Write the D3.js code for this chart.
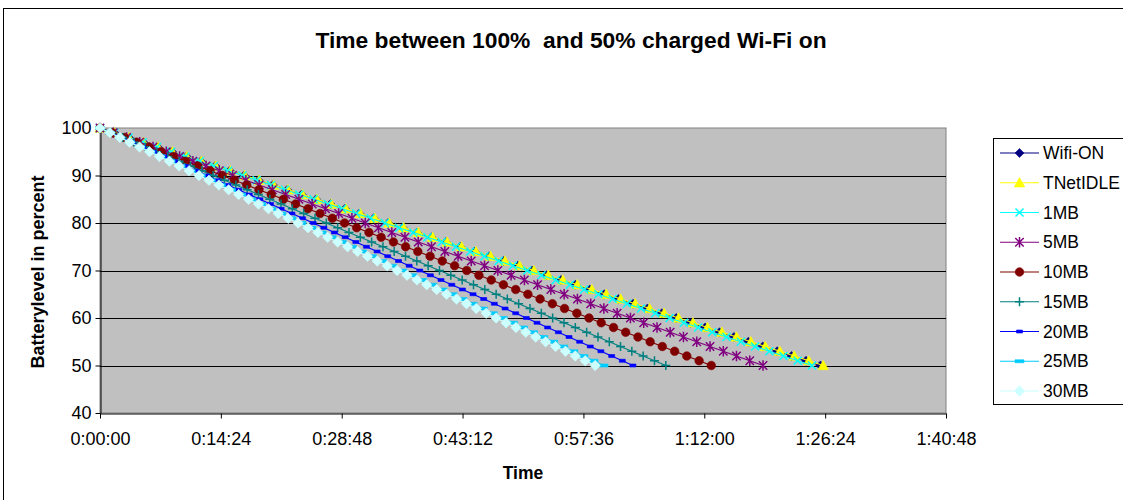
<!DOCTYPE html>
<html>
<head>
<meta charset="utf-8">
<script src="https://cdn.jsdelivr.net/npm/d3@7"></script>
<style>
  html, body { margin: 0; padding: 0; background: #fff; }
  svg { display: block; font-family: "Liberation Sans", Arial, sans-serif; }
</style>
</head>
<body>
<svg id="chart" width="1123" height="500"></svg>
<script>
// ---- Data (times in seconds since start, battery level in percent) ----
const levels = [100,99,98,97,96,95,94,93,92,91,90,89,88,87,86,85,84,83,82,81,80,79,78,77,76,75,74,73,72,71,70,69,68,67,66,65,64,63,62,61,60,59,58,57,56,55,54,53,52,51,50];

const seriesNames = ["Wifi-ON","TNetIDLE","1MB","5MB","10MB","15MB","20MB","25MB","30MB"];

const wifiOn = [0,103,206,309,412,515,618,721,824,927,1030,1133,1236,1339,1442,1545,1648,1751,1854,1957,2060,2163,2266,2369,2472,2575,2678,2781,2884,2987,3090,3193,3296,3399,3502,3605,3708,3811,3914,4017,4120,4223,4326,4429,4532,4635,4738,4841,4944,5047,5150];
const tnetIdle = [0,103,207,310,414,517,620,724,827,931,1034,1137,1241,1344,1448,1551,1654,1758,1861,1965,2068,2171,2275,2378,2482,2585,2688,2792,2895,2999,3102,3205,3309,3412,3516,3619,3722,3826,3929,4033,4136,4239,4343,4446,4550,4653,4756,4860,4963,5067,5170];
const mb1 = [0,102,204,305,407,509,611,713,814,916,1018,1120,1222,1323,1425,1527,1629,1731,1832,1934,2036,2138,2240,2341,2443,2545,2647,2749,2850,2952,3054,3156,3258,3359,3461,3563,3665,3767,3868,3970,4072,4174,4276,4377,4479,4581,4683,4785,4886,4988,5090];
const mb5 = [0,95,190,284,379,474,569,664,758,853,948,1043,1138,1232,1327,1422,1517,1612,1706,1801,1896,1991,2086,2180,2275,2370,2465,2560,2654,2749,2844,2939,3034,3128,3223,3318,3413,3508,3602,3697,3792,3887,3982,4076,4171,4266,4361,4456,4550,4645,4740];
const mb10 = [0,87,175,262,350,437,524,612,699,787,874,961,1049,1136,1224,1311,1398,1486,1573,1661,1748,1835,1923,2010,2098,2185,2272,2360,2447,2535,2622,2709,2797,2884,2972,3059,3146,3234,3321,3409,3496,3583,3671,3758,3846,3933,4020,4108,4195,4283,4370];
const mb15 = [0,81,162,243,324,405,485,566,647,728,809,890,971,1052,1133,1214,1294,1375,1456,1537,1618,1699,1780,1861,1942,2023,2103,2184,2265,2346,2427,2508,2589,2670,2751,2832,2912,2993,3074,3155,3236,3317,3398,3479,3560,3641,3721,3802,3883,3964,4045];
const mb20 = [0,76,152,229,305,381,457,533,610,686,762,838,914,991,1067,1143,1219,1295,1372,1448,1524,1600,1676,1753,1829,1905,1981,2057,2134,2210,2286,2362,2438,2515,2591,2667,2743,2819,2896,2972,3048,3124,3200,3277,3353,3429,3505,3581,3658,3734,3810];
const mb25 = [0,72,144,216,288,360,432,504,576,648,720,792,864,936,1008,1080,1152,1224,1296,1368,1440,1512,1584,1656,1728,1800,1872,1944,2016,2088,2160,2232,2304,2376,2448,2520,2592,2664,2736,2808,2880,2952,3024,3096,3168,3240,3312,3384,3456,3528,3600];
const mb30 = [0,71,142,212,283,354,425,496,566,637,708,779,850,920,991,1062,1133,1204,1274,1345,1416,1487,1558,1628,1699,1770,1841,1912,1982,2053,2124,2195,2266,2336,2407,2478,2549,2620,2690,2761,2832,2903,2974,3044,3115,3186,3257,3328,3398,3469,3540];

const seriesTimes = [wifiOn, tnetIdle, mb1, mb5, mb10, mb15, mb20, mb25, mb30];

const xTickValues = [0,864,1728,2592,3456,4320,5184,6048];   // 0:00:00 ... 1:40:48
const yTickValues = [40,50,60,70,80,90,100];

const titleText = "Time between 100%  and 50% charged Wi-Fi on";
const xTitle = "Time";
const yTitle = "Batterylevel in percent";

// ---- Styles ----
const styles = [
  {color:"#000080", marker:"diamond", fill:"#000080", size:4.5},
  {color:"#FFFF00", marker:"triangle", fill:"#FFFF00", size:5.2},
  {color:"#00FFFF", marker:"x", fill:"none", size:4},
  {color:"#800080", marker:"asterisk", fill:"none", size:4.2},
  {color:"#800000", marker:"circle", fill:"#800000", size:4.3},
  {color:"#008080", marker:"plus", fill:"none", size:4.5},
  {color:"#0000FF", marker:"dashS", fill:"#0000FF", size:3},
  {color:"#00CCFF", marker:"dashL", fill:"#00CCFF", size:4.5},
  {color:"#CCFFFF", marker:"diamond", fill:"#CCFFFF", size:5.2}
];

function markerPath(type, s) {
  switch (type) {
    case "diamond": return `M0,${-s}L${s},0L0,${s}L${-s},0Z`;
    case "triangle": return `M0,${-s}L${s},${s*0.8}L${-s},${s*0.8}Z`;
    case "x": return `M${-s},${-s}L${s},${s}M${-s},${s}L${s},${-s}`;
    case "asterisk": return `M${-s},${-s}L${s},${s}M${-s},${s}L${s},${-s}M0,${-s-1}L0,${s+1}`;
    case "plus": return `M${-s},0L${s},0M0,${-s}L0,${s}`;
    case "dashS": return `M${-s},-1.5L${s},-1.5L${s},1.5L${-s},1.5Z`;
    case "dashL": return `M${-s},-1.5L${s},-1.5L${s},1.5L${-s},1.5Z`;
    case "circle": return `M${s},0A${s},${s} 0 1,1 ${-s},0A${s},${s} 0 1,1 ${s},0Z`;
  }
}

// ---- Layout ----
const svg = d3.select("#chart");
const plot = {left:100, right:946, top:128, bottom:413};

const x = d3.scaleLinear().domain([0, 6048]).range([plot.left, plot.right]);
const y = d3.scaleLinear().domain([40, 100]).range([plot.bottom, plot.top]);

// outer chart border
svg.append("rect").attr("x",3.5).attr("y",8.5).attr("width",1140).attr("height",520)
  .attr("fill","#fff").attr("stroke","#000").attr("stroke-width",1);

// title
svg.append("text").attr("x",571).attr("y",48).attr("text-anchor","middle")
  .attr("font-size",22.8).attr("font-weight","bold").style("white-space","pre")
  .text(titleText);

// plot area
svg.append("rect").attr("x",plot.left).attr("y",plot.top)
  .attr("width",plot.right-plot.left).attr("height",plot.bottom-plot.top)
  .attr("fill","#C0C0C0").attr("stroke","#808080").attr("stroke-width",1);

// gridlines
svg.append("g").selectAll("line").data(yTickValues.filter(v => v>40 && v<100)).join("line")
  .attr("x1",plot.left).attr("x2",plot.right)
  .attr("y1",d => Math.round(y(d))+0.5).attr("y2",d => Math.round(y(d))+0.5)
  .attr("stroke","#000").attr("stroke-width",1);

function fmtTime(s) {
  const h = Math.floor(s/3600), m = Math.floor((s%3600)/60), sec = s%60;
  return `${h}:${String(m).padStart(2,"0")}:${String(sec).padStart(2,"0")}`;
}

// axes
const xAxis = d3.axisBottom(x).tickValues(xTickValues).tickFormat(fmtTime).tickSizeInner(5).tickSizeOuter(0).tickPadding(14);
const gx = svg.append("g").attr("transform",`translate(0,${plot.bottom+0.5})`).call(xAxis);
gx.selectAll("text").attr("font-size",18).attr("fill","#000").attr("font-family","Liberation Sans, Arial, sans-serif");
gx.selectAll("line,path").attr("stroke","#000");

const yAxis = d3.axisLeft(y).tickValues(yTickValues).tickSizeInner(5).tickSizeOuter(0).tickPadding(4);
const gy = svg.append("g").attr("transform",`translate(${plot.left+0.5},0)`).call(yAxis);
gy.selectAll("text").attr("font-size",18).attr("fill","#000").attr("font-family","Liberation Sans, Arial, sans-serif");
gy.selectAll("line,path").attr("stroke","#000");

// axis titles
svg.append("text").attr("x",523).attr("y",479).attr("text-anchor","middle")
  .attr("font-size",17.5).attr("font-weight","bold").text(xTitle);
svg.append("text").attr("transform","translate(44,272) rotate(-90)").attr("text-anchor","middle")
  .attr("font-size",18).attr("font-weight","bold").text(yTitle);

// series
const line = d3.line().x(d => x(d[0])).y(d => y(d[1]));
const gs = svg.append("g");
seriesTimes.forEach((times, i) => {
  const st = styles[i];
  const pts = times.map((t, j) => [t, levels[j]]);
  gs.append("path").datum(pts).attr("d", line)
    .attr("fill","none").attr("stroke",st.color).attr("stroke-width",1.2);
  const isStroke = st.fill === "none";
  gs.append("g").selectAll("path").data(pts).join("path")
    .attr("transform", d => `translate(${x(d[0])},${y(d[1])})`)
    .attr("d", markerPath(st.marker, st.size))
    .attr("fill", isStroke ? "none" : st.fill)
    .attr("stroke", st.color)
    .attr("stroke-width", isStroke ? 1.5 : 0.6);
});

// legend
const lg = svg.append("g");
lg.append("rect").attr("x",993.5).attr("y",138.5).attr("width",140).attr("height",266)
  .attr("fill","#fff").attr("stroke","#000").attr("stroke-width",1);
seriesNames.forEach((name, i) => {
  const st = styles[i];
  const cy = 153 + i*29.75;
  lg.append("line").attr("x1",1000).attr("x2",1039).attr("y1",cy).attr("y2",cy)
    .attr("stroke",st.color).attr("stroke-width",1.2);
  const isStroke = st.fill === "none";
  lg.append("path").attr("transform",`translate(1019.5,${cy})`)
    .attr("d", markerPath(st.marker, st.size))
    .attr("fill", isStroke ? "none" : st.fill)
    .attr("stroke", st.color).attr("stroke-width", isStroke ? 1.5 : 0.6);
  lg.append("text").attr("x",1043).attr("y",cy+6).attr("font-size",17.5).text(name);
});
</script>
</body>
</html>
